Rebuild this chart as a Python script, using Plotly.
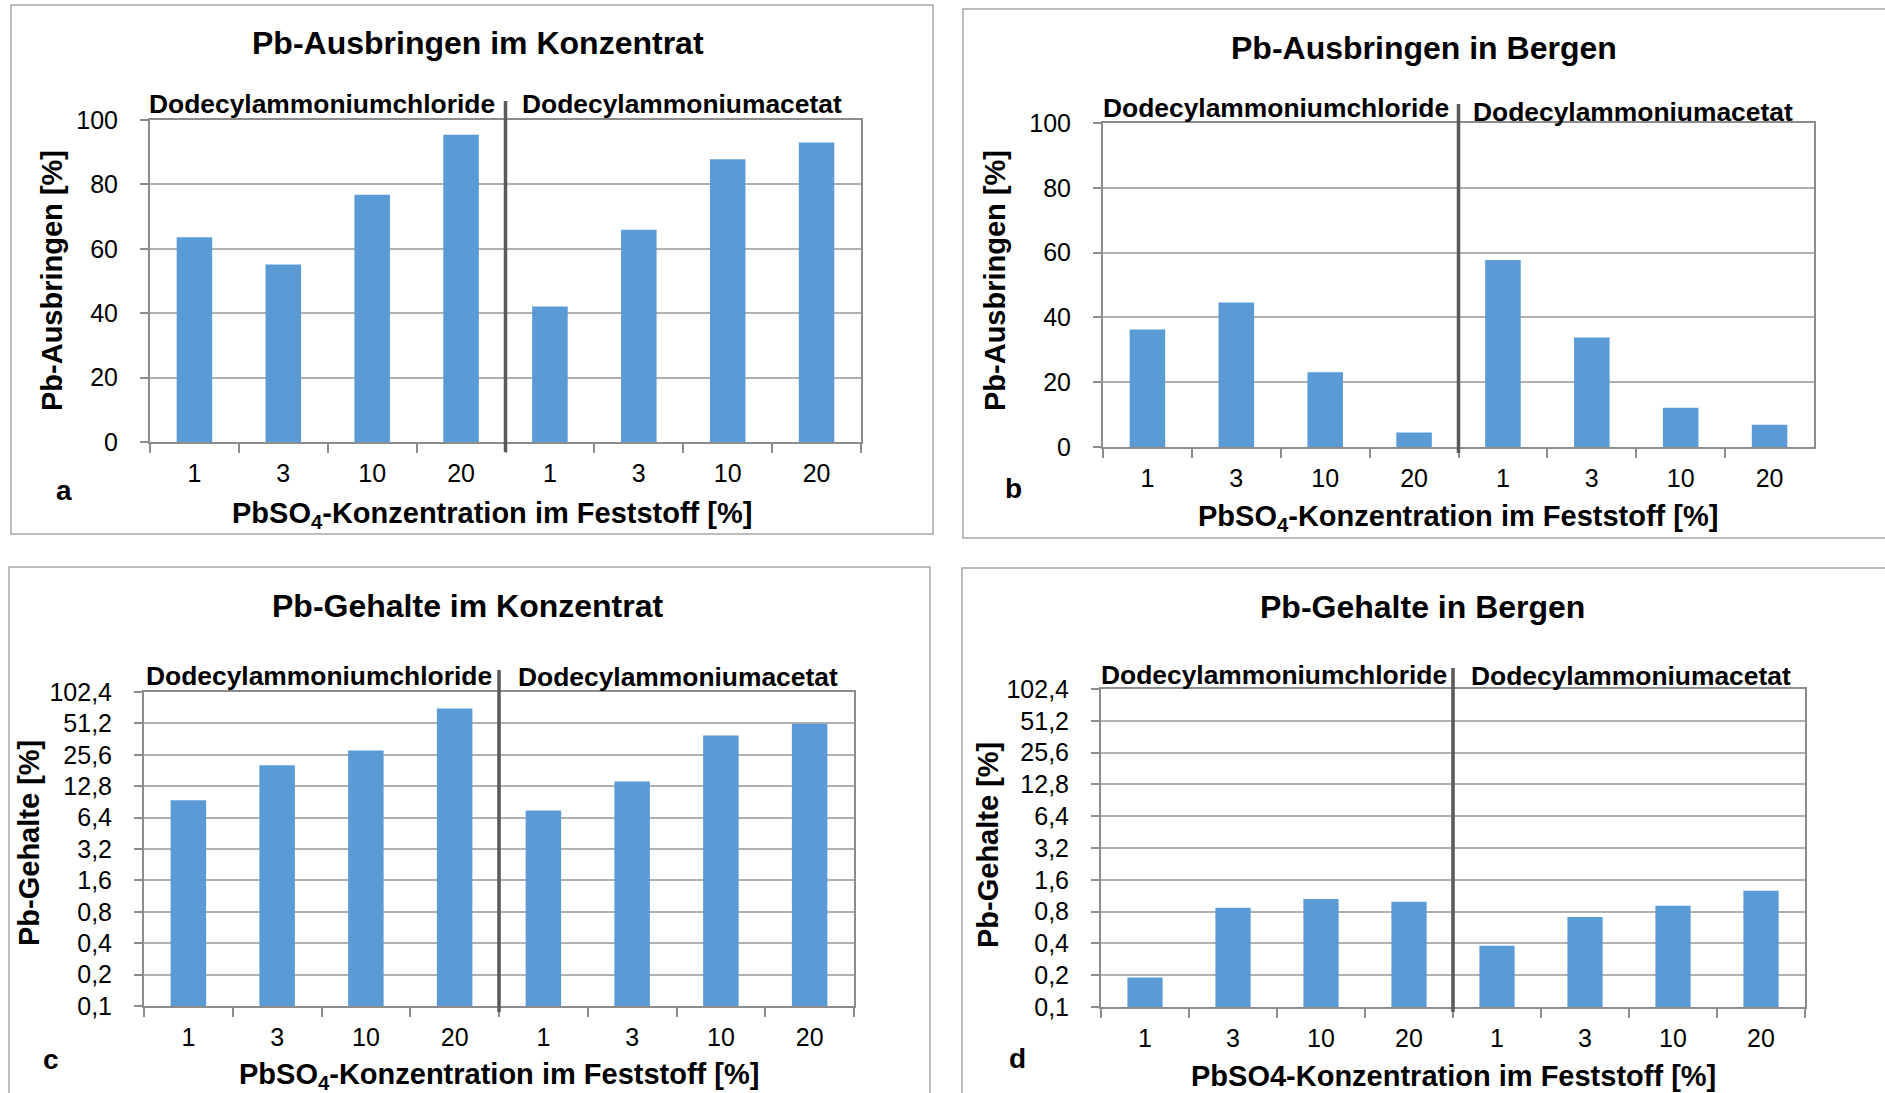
import plotly.graph_objects as go

# ---------------- data ----------------
groups = ["Dodecylammoniumchloride", "Dodecylammoniumacetat"]
concentrations = ["1", "3", "10", "20"]

ausbringen_konz_chlorid = [63.6, 55.1, 76.8, 95.4]
ausbringen_konz_acetat = [42.1, 65.9, 87.8, 93.0]
ausbringen_berge_chlorid = [36.3, 44.6, 23.1, 4.5]
ausbringen_berge_acetat = [57.7, 33.8, 12.1, 6.9]
gehalt_konz_chlorid = [9.4, 20.3, 28.1, 71.3]
gehalt_konz_acetat = [7.5, 14.2, 39.1, 50.9]
gehalt_berge_chlorid = [0.19, 0.87, 1.05, 0.99]
gehalt_berge_acetat = [0.38, 0.71, 0.91, 1.26]

ausbringen_ticks = [0, 20, 40, 60, 80, 100]
gehalt_ticks = [0.1, 0.2, 0.4, 0.8, 1.6, 3.2, 6.4, 12.8, 25.6, 51.2, 102.4]
gehalt_ticktext = ["0,1", "0,2", "0,4", "0,8", "1,6", "3,2", "6,4", "12,8", "25,6", "51,2", "102,4"]

titles = ["Pb-Ausbringen im Konzentrat", "Pb-Ausbringen in Bergen",
          "Pb-Gehalte im Konzentrat", "Pb-Gehalte in Bergen"]
ytitles = ["Pb-Ausbringen [%]", "Pb-Ausbringen [%]", "Pb-Gehalte [%]", "Pb-Gehalte [%]"]
xtitles = ["PbSO<sub>4</sub>-Konzentration im Feststoff [%]",
           "PbSO<sub>4</sub>-Konzentration im Feststoff [%]",
           "PbSO<sub>4</sub>-Konzentration im Feststoff [%]",
           "PbSO4-Konzentration im Feststoff [%]"]
letters = ["a", "b", "c", "d"]

# ---------------- layout helpers ----------------
W, H = 1885, 1093
def px(x):
    return x / W
def py(y):
    return 1 - y / H

FONT = "Liberation Sans, Arial, sans-serif"
BAR = "#5B9BD5"
GRID = "#B0B0B0"
AXIS = "#8C8C8C"
SEP = "#595959"
FRAME = "#A6A6A6"

categories = [g + "|" + c for g in groups for c in concentrations]
ticklabels = concentrations * 2

panels = [
    dict(vals=ausbringen_konz_chlorid + ausbringen_konz_acetat, log=False,
         plot=(150, 120, 861, 442), frame=(11, 5, 933, 534),
         title=(478, 43), ytitle=(52, 281), xtitle=(492, 515), letter=(64, 491),
         g1=(147, 104), g2=(520, 104), sep=(101, 452)),
    dict(vals=ausbringen_berge_chlorid + ausbringen_berge_acetat, log=False,
         plot=(1103, 123, 1814, 447), frame=(963, 9, 1895, 538),
         title=(1424, 48), ytitle=(995, 281), xtitle=(1458, 518), letter=(1014, 488),
         g1=(1101, 108), g2=(1471, 112), sep=(104, 453)),
    dict(vals=gehalt_konz_chlorid + gehalt_konz_acetat, log=True,
         plot=(144, 692, 854, 1006), frame=(9, 567, 930, 1100),
         title=(468, 606), ytitle=(29, 843), xtitle=(499, 1076), letter=(51, 1059),
         g1=(144, 676), g2=(516, 677), sep=(670, 1012)),
    dict(vals=gehalt_berge_chlorid + gehalt_berge_acetat, log=True,
         plot=(1101, 689, 1805, 1007), frame=(962, 568, 1895, 1100),
         title=(1422, 607), ytitle=(988, 845), xtitle=(1453, 1076), letter=(1017, 1058),
         g1=(1099, 675), g2=(1469, 676), sep=(668, 1012)),
]

fig = go.Figure()
annotations = []
shapes = []

for i, p in enumerate(panels):
    n = "" if i == 0 else str(i + 1)
    x0, y0, x1, y1 = p["plot"]
    fig.add_trace(go.Bar(x=categories, y=p["vals"], marker=dict(color=BAR, line=dict(width=0)),
                         xaxis="x" + n, yaxis="y" + n, showlegend=False))
    xa = dict(domain=[px(x0), px(x1)], anchor="y" + n, type="category", automargin=False,
              tickmode="array", tickvals=categories, ticktext=ticklabels,
              tickson="boundaries", ticks="outside", ticklen=9, tickwidth=1.5, tickcolor=AXIS,
              showline=True, linecolor=AXIS, linewidth=2, mirror=True, showgrid=False,
              tickfont=dict(family=FONT, size=25, color="#000000"), ticklabelstandoff=8,
              range=[-0.5, 7.5], fixedrange=True)
    if p["log"]:
        ya = dict(type="log", range=[-1, 2.0103], tickmode="array", tickvals=gehalt_ticks,
                  ticktext=gehalt_ticktext)
    else:
        ya = dict(range=[0, 100], tickmode="array", tickvals=ausbringen_ticks)
    ya.update(domain=[py(y1), py(y0)], anchor="x" + n, automargin=False, ticks="outside",
              ticklen=8, tickwidth=1.5, tickcolor=AXIS, showline=True, linecolor=AXIS,
              linewidth=2, mirror=True, showgrid=True, gridcolor=GRID, gridwidth=1.6,
              zeroline=False, fixedrange=True,
              tickfont=dict(family=FONT, size=25, color="#000000"), ticklabelstandoff=17)
    fig.update_layout(**{"xaxis" + n: xa, "yaxis" + n: ya})

    # frame around each panel
    fx0, fy0, fx1, fy1 = p["frame"]
    shapes.append(dict(type="rect", xref="paper", yref="paper", x0=px(fx0), x1=px(fx1),
                       y0=py(fy1), y1=py(fy0), line=dict(color=FRAME, width=1.5),
                       fillcolor="rgba(0,0,0,0)", layer="below"))
    # separator between the two reagent groups
    sx = (x0 + x1) / 2
    shapes.append(dict(type="line", xref="paper", yref="paper", x0=px(sx), x1=px(sx),
                       y0=py(p["sep"][1]), y1=py(p["sep"][0]),
                       line=dict(color=SEP, width=3.5)))

    def ann(text, pos, size, xanchor="center", angle=0):
        annotations.append(dict(text=text, x=px(pos[0]), y=py(pos[1]), xref="paper",
                                yref="paper", xanchor=xanchor, yanchor="middle",
                                showarrow=False, textangle=angle,
                                font=dict(family=FONT, size=size, color="#000000")))

    ann("<b>" + titles[i] + "</b>", p["title"], 32)
    ann("<b>" + ytitles[i] + "</b>", p["ytitle"], 29, angle=-90)
    ann("<b>" + xtitles[i] + "</b>", p["xtitle"], 29)
    ann("<b>" + letters[i] + "</b>", p["letter"], 28)
    ann("<b>" + groups[0] + "</b>", p["g1"], 26.4, xanchor="left")
    ann("<b>" + groups[1] + "</b>", p["g2"], 26.4, xanchor="left")

fig.update_layout(width=W, height=H, margin=dict(l=0, r=0, t=0, b=0, pad=0, autoexpand=False),
                  paper_bgcolor="white", plot_bgcolor="white", bargap=0.6,
                  title=None, annotations=annotations, shapes=shapes, showlegend=False)

pin_js = ("document.body.style.margin='0';document.body.style.overflow='hidden';"
          "var d=document.getElementById('{plot_id}');"
          "d.style.position='absolute';d.style.left='0px';d.style.top='0px';")
fig.write_html("out.html", post_script=pin_js, config={"displayModeBar": False})
